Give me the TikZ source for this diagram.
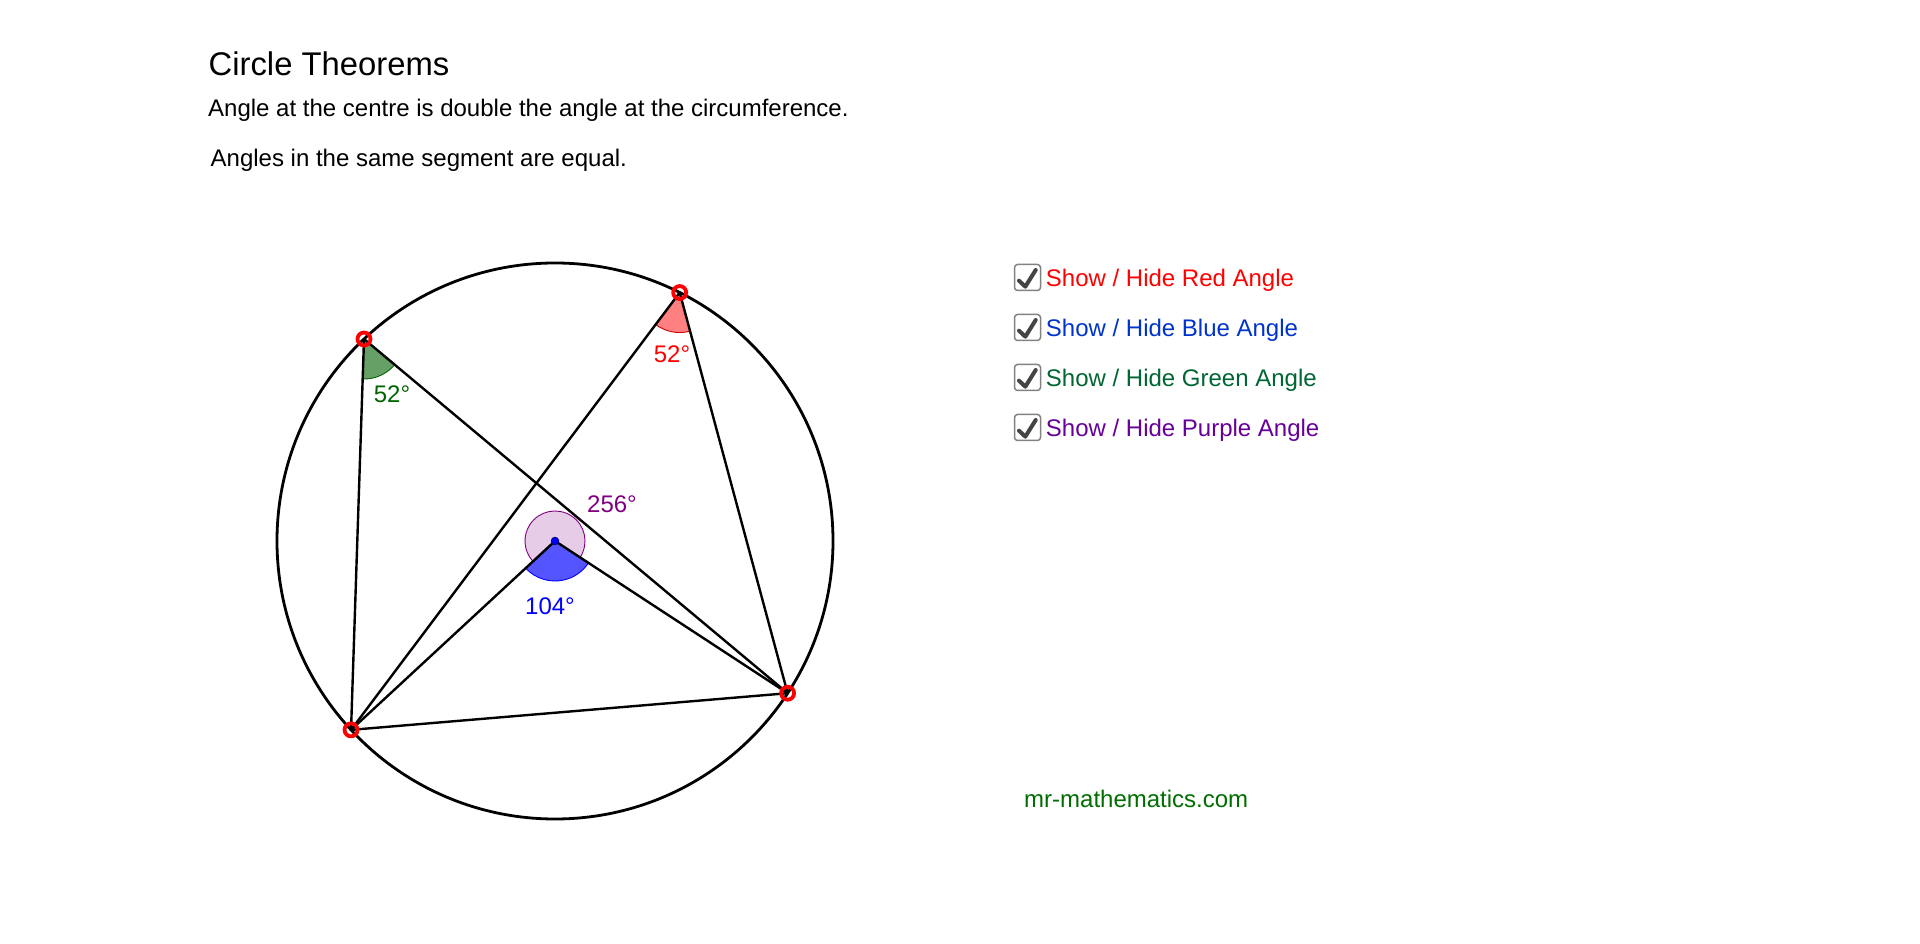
\documentclass[tikz,border=0pt]{standalone}
\usepackage{fontspec}
\setmainfont{Liberation Sans}
\usetikzlibrary{calc}
\definecolor{cbred}{RGB}{255,0,0}
\definecolor{cbblue}{RGB}{0,51,204}
\definecolor{cbgreen}{RGB}{0,102,51}
\definecolor{cbpurple}{RGB}{102,0,153}
\definecolor{lgreen}{RGB}{0,100,0}
\definecolor{lpurple}{RGB}{128,0,128}
\definecolor{webgreen}{RGB}{0,110,0}
\definecolor{redfill}{RGB}{255,128,128}
\definecolor{greenfill}{RGB}{102,160,102}
\definecolor{bluefill}{RGB}{85,85,255}
\definecolor{purplefill}{RGB}{230,204,230}
\definecolor{boxgray}{RGB}{130,130,130}
\definecolor{checkgray}{RGB}{68,68,68}
\begin{document}
\begin{tikzpicture}[x=1pt,y=1pt,line join=round,
  seg/.style={line width=2.4pt,black},
  ptmark/.style={circle,draw=red,line width=3.8pt,minimum size=13pt,inner sep=0pt},
  lbl/.style={font=\fontsize{24}{28}\selectfont,anchor=base,inner sep=0pt},
  txt/.style={font=\fontsize{24}{28}\selectfont,anchor=base west,inner sep=0pt},
  cbox/.style={draw=boxgray,line width=1.5pt,rounded corners=3pt,fill=white,minimum size=26pt,inner sep=0pt},
  check/.style={draw=checkgray,line width=4pt,line cap=round,line join=round}]
\useasboundingbox (0,0) rectangle (1920,943);
\fill[white] (0,0) rectangle (1920,943);
% titles
\node[txt,font=\fontsize{32.8}{36}\selectfont] (title) at (208.5,867) {Circle Theorems};
\node[txt] (l1) at (208,826) {Angle at the centre is double the angle at the circumference.};
\node[txt] (l2) at (210.5,776) {Angles in the same segment are equal.};
% geometry
\coordinate (O) at (555,402);
\coordinate (P1) at ($(O)+(63.35:278pt)$);
\coordinate (P2) at ($(O)+(133.4:278pt)$);
\coordinate (P3) at ($(O)+(222.8:278pt)$);
\coordinate (P4) at ($(O)+(326.8:278pt)$);
\draw[line width=2.8pt] (O) circle[radius=278pt];
% angles
\filldraw[fill=purplefill,draw=lpurple,line width=0.9pt] (O) -- ++(326.8:30pt) arc[start angle=326.8,end angle=582.8,radius=30pt] -- cycle;
\filldraw[fill=bluefill,draw=blue,line width=0.9pt] (O) -- ++(222.8:40pt) arc[start angle=222.8,end angle=326.8,radius=40pt] -- cycle;
\filldraw[fill=redfill,draw=red!80!black,line width=0.9pt] (P1) -- ++(233.075:40pt) arc[start angle=233.075,end angle=285.075,radius=40pt] -- cycle;
\filldraw[fill=greenfill,draw=lgreen,line width=0.9pt] (P2) -- ++(268.1:40pt) arc[start angle=268.1,end angle=320.1,radius=40pt] -- cycle;
% segments
\draw[seg] (P2) -- (P3);
\draw[seg] (P2) -- (P4);
\draw[seg] (P1) -- (P3);
\draw[seg] (P1) -- (P4);
\draw[seg] (P3) -- (P4);
\draw[seg] (O) -- (P3);
\draw[seg] (O) -- (P4);
\filldraw[fill=blue,draw=blue!50!black,line width=0.8pt] (O) circle[radius=3.8pt];
\node[ptmark] (m1) at (P1) {};
\node[ptmark] (m2) at (P2) {};
\node[ptmark] (m3) at (P3) {};
\node[ptmark] (m4) at (P4) {};
% angle labels
\node[lbl,text=red] (a1) at (672,580) {52°};
\node[lbl,text=lgreen] (a2) at (392,540) {52°};
\node[lbl,text=lpurple] (a3) at (612,430) {256°};
\node[lbl,text=blue] (a4) at (550,328) {104°};
% checkboxes
\foreach \i/\c/\t in {0/cbred/Red,1/cbblue/Blue,2/cbgreen/Green,3/cbpurple/Purple}{
  \node[cbox] (box\i) at (1027.5,665.5-50*\i) {};
  \draw[check] ($(box\i.center)+(-8.5,-3.2)$) -- ($(box\i.center)+(-2.2,-9.2)$) -- ($(box\i.center)+(8.2,7.5)$);
  \node[txt,text=\c] (cb\i) at (1045.7,656-50*\i) {Show / Hide \t\ Angle};
}
\node[txt,text=webgreen] (web) at (1024,135.3) {mr-mathematics.com};
\end{tikzpicture}
\end{document}
